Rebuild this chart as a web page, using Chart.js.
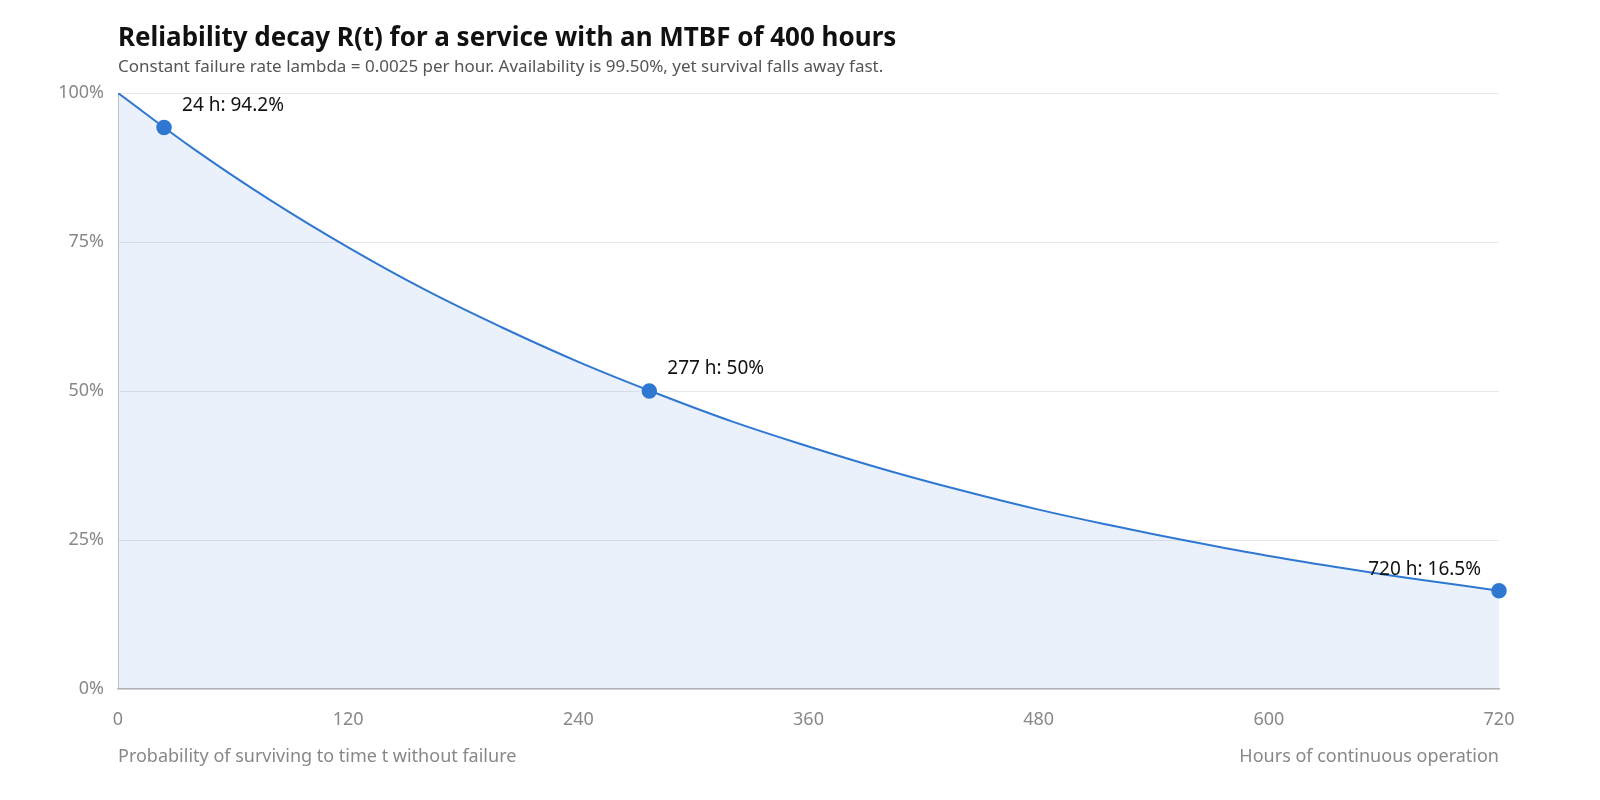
<!DOCTYPE html>
<html><head><meta charset="utf-8">
<script src="https://cdn.jsdelivr.net/npm/chart.js@4"></script>
<style>
body{margin:0;width:1600px;height:800px;background:#fff;font-family:"Noto Sans","Open Sans",sans-serif;position:relative;overflow:hidden}
#wrap{position:absolute;left:0;top:0;width:1600px;height:800px}
.t{position:absolute;white-space:nowrap}
#title{left:118px;top:18px;font-size:26px;font-weight:bold;color:#111}
#sub{left:118px;top:54px;font-size:17px;color:#555}
#capL{left:118px;top:743px;font-size:18px;color:#888}
#capR{right:101px;top:743px;font-size:18px;color:#888}
</style></head><body>
<div id="wrap"><canvas id="c" width="1600" height="800"></canvas></div>
<div class="t" id="title">Reliability decay R(t) for a service with an MTBF of 400 hours</div>
<div class="t" id="sub">Constant failure rate lambda = 0.0025 per hour. Availability is 99.50%, yet survival falls away fast.</div>
<div class="t" id="capL">Probability of surviving to time t without failure</div>
<div class="t" id="capR">Hours of continuous operation</div>
<script>
// Curve
const hours = [0, 40, 80, 120, 160, 200, 240, 280, 320, 360, 400, 440, 480, 520, 560, 600, 640, 680, 720];
const survival = [100, 90.5, 81.9, 74.1, 67.0, 60.7, 54.9, 49.7, 44.9, 40.7, 36.8, 33.3, 30.1, 27.3, 24.7, 22.3, 20.2, 18.3, 16.5];

// Marked points
const markHours = [24, 277, 720];
const markValues = [94.2, 50, 16.5];
const markLabels = ['24 h: 94.2%', '277 h: 50%', '720 h: 16.5%'];

const yTicks = [0, 25, 50, 75, 100];
const xTicks = [0, 120, 240, 360, 480, 600, 720];

const blue = '#2f78d2';

const markLabelPlugin = {
  id: 'markLabels',
  afterDatasetsDraw(chart) {
    const meta = chart.getDatasetMeta(1);
    const ctx = chart.ctx;
    ctx.save();
    ctx.font = '19px "Noto Sans", sans-serif';
    ctx.fillStyle = '#111';
    ctx.textBaseline = 'alphabetic';
    meta.data.forEach((pt, i) => {
      if (i === markLabels.length - 1) {
        ctx.textAlign = 'right';
        ctx.fillText(markLabels[i], pt.x - 18, pt.y - 16);
      } else {
        ctx.textAlign = 'left';
        ctx.fillText(markLabels[i], pt.x + 18, pt.y - 17);
      }
    });
    ctx.restore();
  }
};

new Chart(document.getElementById('c'), {
  type: 'line',
  data: {
    datasets: [{
      data: hours.map((h, i) => ({ x: h, y: survival[i] })),
      borderColor: blue,
      borderWidth: 2,
      backgroundColor: 'rgba(47,120,210,0.1)',
      fill: 'origin',
      pointRadius: 0,
      tension: 0.4
    }, {
      data: markHours.map((h, i) => ({ x: h, y: markValues[i] })),
      showLine: false,
      pointRadius: 9,
      pointBackgroundColor: blue,
      pointBorderColor: '#fff',
      pointBorderWidth: 2.5,
      clip: false
    }]
  },
  options: {
    responsive: false,
    animation: false,
    layout: { padding: { left: 58, top: 93, right: 101, bottom: 61 } },
    plugins: { legend: { display: false }, tooltip: { enabled: false } },
    scales: {
      x: {
        type: 'linear', min: 0, max: 720,
        afterBuildTicks: s => { s.ticks = xTicks.map(v => ({ value: v })); },
        afterFit: s => { s.height = 50; },
        grid: { display: false },
        border: { color: '#bbb', width: 1.5 },
        ticks: { color: '#888', font: { size: 18, family: 'Noto Sans' }, padding: 12 }
      },
      y: {
        min: 0, max: 100,
        afterBuildTicks: s => { s.ticks = yTicks.map(v => ({ value: v })); },
        afterFit: s => { s.width = 60; },
        grid: { color: '#e8e8e8', drawTicks: false },
        border: { color: '#ccc', width: 1 },
        ticks: { color: '#888', font: { size: 18, family: 'Noto Sans' }, padding: 14, callback: v => v + '%' }
      }
    }
  },
  plugins: [markLabelPlugin]
});
</script>
</body></html>
